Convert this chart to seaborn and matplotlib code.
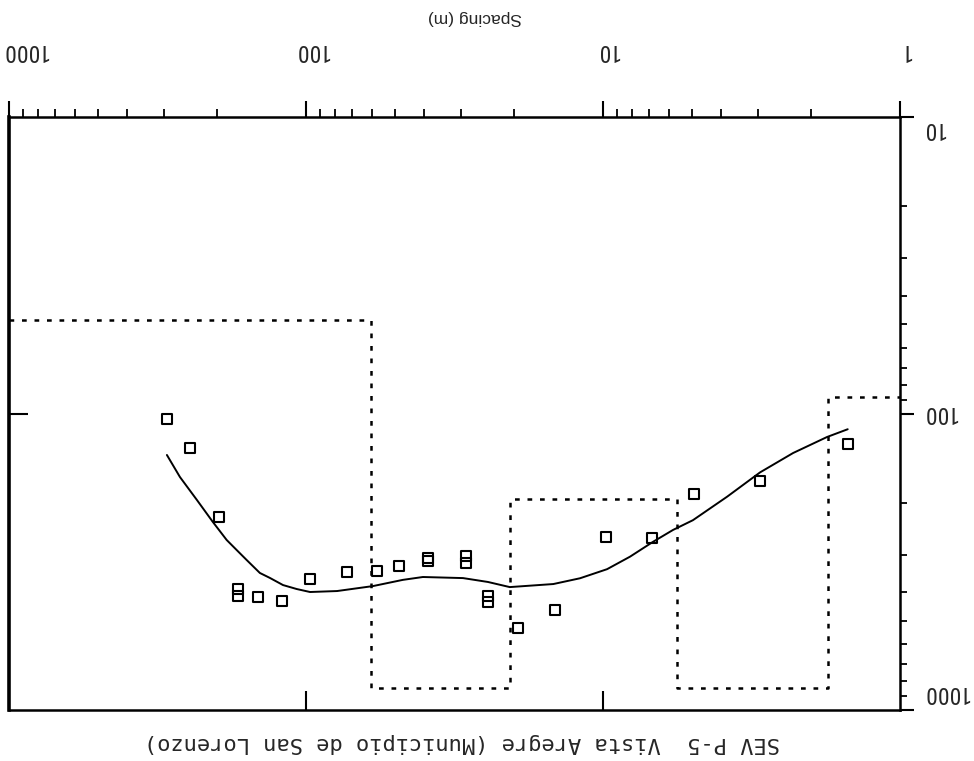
import matplotlib
matplotlib.use("Agg")
import matplotlib.pyplot as plt
import matplotlib.transforms as mtransforms
import seaborn as sns
import pandas as pd
from matplotlib import font_manager
from matplotlib.font_manager import FontProperties
from matplotlib.ticker import FixedLocator, LogLocator, NullFormatter, NullLocator

# ---------------- data ----------------
spacing = [294, 246, 196, 169, 169, 145, 120.4, 96.9, 72.8, 57.7, 48.6, 38.8, 38.8,
           28.9, 28.9, 24.4, 24.4, 19.3, 14.5, 9.77, 6.84, 4.94, 2.96, 1.50]
resistivity = [104.6, 130.4, 222.8, 390.8, 412.6, 415.8, 428.9, 361.5, 342.4, 339.8,
               326.8, 307.2, 314.4, 302.4, 319.3, 412.6, 432.3, 529, 459.9, 260.9,
               263, 186.8, 168.9, 126.7]

curve_spacing = [294, 265.7, 233, 206, 185, 171, 158.4, 143, 132.2, 119.5, 107.5,
                 96.9, 78.6, 59.5, 47.2, 40.4, 29.6, 24.4, 20.6, 14.7, 11.95, 9.69,
                 8.11, 6.79, 5.81, 4.98, 3.82, 2.96, 2.29, 1.76, 1.50]
curve_resistivity = [138, 163.8, 195.7, 232, 267, 289, 312, 345, 358.7, 379, 390.8,
                     400, 397, 382, 364, 356, 359, 370, 385, 376, 359.5, 335,
                     304, 271, 247, 229, 190.8, 158, 135.9, 120, 113]

layer_spacing = [1000, 60.4, 20.6, 5.63, 1.75, 1]
layer_resistivity = [48.4, 843, 194, 843, 88, 88]

x_ticks = [1, 10, 100, 1000]
x_tick_labels = ["1", "10", "100", "1000"]
y_ticks = [10, 100, 1000]
y_tick_labels = ["10", "100", "1000"]
title = "SEV P-5  Vista Aregre (Municipio de San Lorenzo)"
x_label = "Spacing (m)"

# label offsets in pixels (placement only; + is right / down)
x_label_dx = [5, 4, 6, 16]
y_label_dy = [11, -1, -18]

# ---------------- style ----------------
sns.set_style("white")
plt.rcParams["font.family"] = ["Liberation Sans", "DejaVu Sans"]
plt.rcParams["lines.scale_dashes"] = False


def _is_regular(f):
    return f.style == "normal" and f.weight in (400, "normal", "regular", "book", "Regular")


narrow = None
pref = ["Liberation Sans Narrow", "Arial Narrow", "Roboto Condensed", "Open Sans Condensed",
        "Noto Sans Condensed", "DejaVu Sans Condensed"]
ttf = font_manager.fontManager.ttflist
for p in pref:
    hits = [f for f in ttf if f.name == p and _is_regular(f)]
    if hits:
        narrow = hits[0]
        break
if narrow is None:
    hits = [f for f in ttf if _is_regular(f) and "Mono" not in f.name and
            (f.stretch in ("condensed", "semi-condensed", "extra-condensed") or
             "Narrow" in f.name or "Condensed" in f.name)]
    if hits:
        narrow = hits[0]
if narrow is not None:
    tick_fp = FontProperties(fname=narrow.fname, size=17)
else:
    tick_fp = FontProperties(family="Liberation Sans", size=14)

W, H = 974, 761
fig = plt.figure(figsize=(W / 100, H / 100), dpi=100)
rect = [9 / W, 1 - 710 / H, 891 / W, 593 / H]
ax = fig.add_axes(rect)

pts = pd.DataFrame({"spacing": spacing, "rho": resistivity})
curve = pd.DataFrame({"spacing": curve_spacing, "rho": curve_resistivity})
layers = pd.DataFrame({"spacing": layer_spacing, "rho": layer_resistivity})

sns.lineplot(data=layers, x="spacing", y="rho", ax=ax, sort=False, estimator=None,
             drawstyle="steps-post", color="black", linewidth=1.8,
             linestyle=(0, (3.4, 5.6)))
sns.lineplot(data=curve, x="spacing", y="rho", ax=ax, sort=False, estimator=None,
             color="black", linewidth=1.4)
sns.scatterplot(data=pts, x="spacing", y="rho", ax=ax, marker="s", s=55,
                facecolor="none", edgecolor="black", linewidth=1.5, zorder=5)

ax.set_xscale("log")
ax.set_yscale("log")
ax.set_xlim(1000, 1)
ax.set_ylim(1000, 10)
ax.set_xlabel("")
ax.set_ylabel("")

for s in ax.spines.values():
    s.set_linewidth(1.8)
    s.set_color("black")
ax.spines["left"].set_linewidth(2.6)

ax.xaxis.set_major_locator(FixedLocator(x_ticks))
ax.xaxis.set_minor_locator(LogLocator(base=10, subs=range(2, 10)))
ax.xaxis.set_minor_formatter(NullFormatter())
ax.yaxis.set_major_locator(FixedLocator(y_ticks))
ax.yaxis.set_minor_locator(LogLocator(base=10, subs=range(2, 10)))
ax.yaxis.set_minor_formatter(NullFormatter())

ax.tick_params(axis="x", which="both", top=True, bottom=False, labeltop=False,
               labelbottom=False, direction="out", color="black")
ax.tick_params(axis="x", which="major", length=11.5, width=1.5)
ax.tick_params(axis="x", which="minor", length=5.5, width=1.3)
ax.tick_params(axis="y", which="both", right=True, left=False, labelright=False,
               labelleft=False, direction="out", color="black")
ax.tick_params(axis="y", which="major", length=10, width=1.5)
ax.tick_params(axis="y", which="minor", length=5, width=1.3)

# tick labels (upside down, as in the scanned reference)
px = 0.72  # points per pixel at 100 dpi
xtr = mtransforms.blended_transform_factory(ax.transData, ax.transAxes)
for v, lab, dx in zip(x_ticks, x_tick_labels, x_label_dx):
    ax.annotate(lab, xy=(v, 1), xycoords=xtr, xytext=(dx * px, 67 * px),
                textcoords="offset points", rotation=180, ha="center", va="center",
                fontproperties=tick_fp, annotation_clip=False)
ytr = mtransforms.blended_transform_factory(ax.transAxes, ax.transData)
for v, lab, dy in zip(y_ticks, y_tick_labels, y_label_dy):
    ax.annotate(lab, xy=(1, v), xycoords=ytr, xytext=(22 * px, -dy * px),
                textcoords="offset points", rotation=180, ha="left", va="center",
                fontproperties=tick_fp, annotation_clip=False)

# inner ticks on the bottom and left sides
ax2 = fig.add_axes(rect, frameon=False)
ax2.set_xscale("log")
ax2.set_yscale("log")
ax2.set_xlim(1000, 1)
ax2.set_ylim(1000, 10)
ax2.xaxis.set_major_locator(FixedLocator([10, 100]))
ax2.yaxis.set_major_locator(FixedLocator([100]))
ax2.xaxis.set_minor_locator(NullLocator())
ax2.yaxis.set_minor_locator(NullLocator())
ax2.tick_params(direction="in", top=False, right=False, bottom=True, left=True,
                labelbottom=False, labelleft=False, length=14, width=1.5, color="black")
ax2.patch.set_alpha(0)

fig.text(475 / W, 1 - 18 / H, x_label, rotation=180, ha="center", va="center",
         fontsize=12.5)
fig.text(462 / W, 1 - 743 / H, title, rotation=180, ha="center", va="center",
         fontsize=15.8, family=["DejaVu Sans Mono", "DejaVu Sans"])

fig.savefig("out.png", dpi=100)
